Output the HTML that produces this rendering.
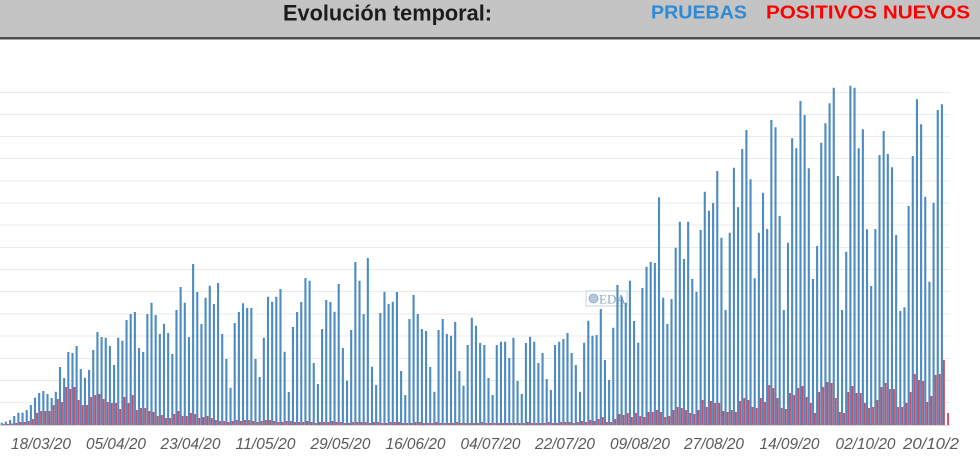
<!DOCTYPE html>
<html><head><meta charset="utf-8"><style>
html,body{margin:0;padding:0;background:#fff;width:980px;height:463px;overflow:hidden}
svg{display:block}
</style></head><body>
<svg width="980" height="463" viewBox="0 0 980 463" xmlns="http://www.w3.org/2000/svg">
<rect x="0" y="0" width="980" height="38" fill="#c4c4c4"/>
<rect x="0" y="37" width="980" height="2.5" fill="#4e4e4e"/>
<text x="283" y="20.5" font-family="'Liberation Sans', sans-serif" font-weight="bold" font-size="22" fill="#1c1c1c" textLength="209" lengthAdjust="spacingAndGlyphs">Evolución temporal:</text>
<text x="651" y="18.5" font-family="'Liberation Sans', sans-serif" font-weight="bold" font-size="18.5" fill="#2e8ad4" textLength="96" lengthAdjust="spacingAndGlyphs">PRUEBAS</text>
<text x="766" y="18.5" font-family="'Liberation Sans', sans-serif" font-weight="bold" font-size="18.5" fill="#ff0000" textLength="204" lengthAdjust="spacingAndGlyphs">POSITIVOS NUEVOS</text>

<g stroke="#ebebeb" stroke-width="1">
<line x1="0" x2="950" y1="92.5" y2="92.5"/>
<line x1="0" x2="950" y1="114.5" y2="114.5"/>
<line x1="0" x2="950" y1="136.5" y2="136.5"/>
<line x1="0" x2="950" y1="158.5" y2="158.5"/>
<line x1="0" x2="950" y1="181" y2="181"/>
<line x1="0" x2="950" y1="203" y2="203"/>
<line x1="0" x2="950" y1="225" y2="225"/>
<line x1="0" x2="950" y1="247.5" y2="247.5"/>
<line x1="0" x2="950" y1="269.5" y2="269.5"/>
<line x1="0" x2="950" y1="291.5" y2="291.5"/>
<line x1="0" x2="950" y1="314" y2="314"/>
<line x1="0" x2="950" y1="336" y2="336"/>
<line x1="0" x2="950" y1="358.5" y2="358.5"/>
<line x1="0" x2="950" y1="380.5" y2="380.5"/>
<line x1="0" x2="950" y1="402.5" y2="402.5"/>
</g>
<line x1="0" x2="950" y1="425.5" y2="425.5" stroke="#d8d8d8" stroke-width="1"/>

<g>
<rect x="586" y="291" width="41" height="15" fill="#ffffff" fill-opacity="0.7" stroke="#c5d3e3" stroke-width="1"/>
<circle cx="593.5" cy="298.5" r="4.5" fill="#b6c8df" stroke="#8ea6c6" stroke-width="0.8"/>
<text x="599" y="303.5" font-family="'Liberation Serif', serif" font-size="13" fill="#8ea6c6">EDA</text>
</g>

<path fill="#4d8bc0" d="M0.7 425
v-2.3h2.1V425m2.06 0 v-3.3h2.1V425m2.06 0 v-5h2.1V425m2.06 0 v-9h2.1V425m2.06 0 v-12.3h2.1V425m2.06 0
v-12.3h2.1V425m2.06 0 v-15h2.1V425m2.06 0 v-20h2.1V425m2.06 0 v-27.3h2.1V425m2.06 0 v-32h2.1V425m2.06 0
v-34h2.1V425m2.06 0 v-31h2.1V425m2.06 0 v-27h2.1V425m2.06 0 v-33.3h2.1V425m2.06 0 v-58h2.1V425m2.06 0
v-47h2.1V425m2.06 0 v-73h2.1V425m2.06 0 v-72h2.1V425m2.06 0 v-79h2.1V425m2.06 0 v-56h2.1V425m2.06 0
v-47.3h2.1V425m2.06 0 v-55h2.1V425m2.06 0 v-75h2.1V425m2.06 0 v-93h2.1V425m2.06 0 v-88h2.1V425m2.06 0
v-87.3h2.1V425m2.06 0 v-79h2.1V425m2.06 0 v-60h2.1V425m2.06 0 v-87.3h2.1V425m2.06 0 v-84.3h2.1V425m2.06 0
v-105h2.1V425m2.06 0 v-111h2.1V425m2.06 0 v-113h2.1V425m2.06 0 v-77h2.1V425m2.06 0 v-73h2.1V425m2.06 0
v-111h2.1V425m2.06 0 v-122.3h2.1V425m2.06 0 v-110h2.1V425m2.06 0 v-91h2.1V425m2.06 0 v-101.3h2.1V425m2.06 0
v-92h2.1V425m2.06 0 v-71h2.1V425m2.06 0 v-115h2.1V425m2.06 0 v-138h2.1V425m2.06 0 v-122.3h2.1V425m2.06 0
v-88h2.1V425m2.06 0 v-161h2.1V425m2.06 0 v-133h2.1V425m2.06 0 v-101h2.1V425m2.06 0 v-127.3h2.1V425m2.06 0
v-139.3h2.1V425m2.06 0 v-121h2.1V425m2.06 0 v-142h2.1V425m2.06 0 v-91h2.1V425m2.06 0 v-66h2.1V425m2.06 0
v-37.3h2.1V425m2.06 0 v-102h2.1V425m2.06 0 v-113h2.1V425m2.06 0 v-121.7h2.1V425m2.06 0 v-117h2.1V425m2.06 0
v-117h2.1V425m2.06 0 v-66h2.1V425m2.06 0 v-48h2.1V425m2.06 0 v-87.3h2.1V425m2.06 0 v-128.3h2.1V425m2.06 0
v-123.3h2.1V425m2.06 0 v-128.3h2.1V425m2.06 0 v-136h2.1V425m2.06 0 v-73.3h2.1V425m2.06 0 v-33h2.1V425m2.06 0
v-98h2.1V425m2.06 0 v-113h2.1V425m2.06 0 v-123h2.1V425m2.06 0 v-147h2.1V425m2.06 0 v-144.3h2.1V425m2.06 0
v-62h2.1V425m2.06 0 v-41h2.1V425m2.06 0 v-96h2.1V425m2.06 0 v-125h2.1V425m2.06 0 v-123h2.1V425m2.06 0
v-113.3h2.1V425m2.06 0 v-141h2.1V425m2.06 0 v-77h2.1V425m2.06 0 v-44.3h2.1V425m2.06 0 v-95h2.1V425m2.06 0
v-163h2.1V425m2.06 0 v-144.3h2.1V425m2.06 0 v-111h2.1V425m2.06 0 v-167h2.1V425m2.06 0 v-58.3h2.1V425m2.06 0
v-40h2.1V425m2.06 0 v-112h2.1V425m2.06 0 v-133.3h2.1V425m2.06 0 v-121h2.1V425m2.06 0 v-123.3h2.1V425m2.06 0
v-133h2.1V425m2.06 0 v-54h2.1V425m2.06 0 v-30h2.1V425m2.06 0 v-106h2.1V425m2.06 0 v-130h2.1V425m2.06 0
v-111h2.1V425m2.06 0 v-96h2.1V425m2.06 0 v-94h2.1V425m2.06 0 v-58h2.1V425m2.06 0 v-33.3h2.1V425m2.06 0
v-95h2.1V425m2.06 0 v-106h2.1V425m2.06 0 v-91h2.1V425m2.06 0 v-89.3h2.1V425m2.06 0 v-103h2.1V425m2.06 0
v-54h2.1V425m2.06 0 v-39.3h2.1V425m2.06 0 v-80h2.1V425m2.06 0 v-107.3h2.1V425m2.06 0 v-99.3h2.1V425m2.06 0
v-82h2.1V425m2.06 0 v-80h2.1V425m2.06 0 v-47h2.1V425m2.06 0 v-30h2.1V425m2.06 0 v-80h2.1V425m2.06 0
v-83.3h2.1V425m2.06 0 v-83.3h2.1V425m2.06 0 v-67h2.1V425m2.06 0 v-87.3h2.1V425m2.06 0 v-44h2.1V425m2.06 0
v-31h2.1V425m2.06 0 v-82h2.1V425m2.06 0 v-88.3h2.1V425m2.06 0 v-83.3h2.1V425m2.06 0 v-62h2.1V425m2.06 0
v-72h2.1V425m2.06 0 v-46h2.1V425m2.06 0 v-35h2.1V425m2.06 0 v-80h2.1V425m2.06 0 v-83.3h2.1V425m2.06 0
v-86h2.1V425m2.06 0 v-92h2.1V425m2.06 0 v-72h2.1V425m2.06 0 v-60h2.1V425m2.06 0 v-33.3h2.1V425m2.06 0
v-82.3h2.1V425m2.06 0 v-104.3h2.1V425m2.06 0 v-89.3h2.1V425m2.06 0 v-90h2.1V425m2.06 0 v-116h2.1V425m2.06 0
v-65h2.1V425m2.06 0 v-45h2.1V425m2.06 0 v-97.3h2.1V425m2.06 0 v-140h2.1V425m2.06 0 v-128.3h2.1V425m2.06 0
v-122.3h2.1V425m2.06 0 v-144.3h2.1V425m2.06 0 v-104h2.1V425m2.06 0 v-82.3h2.1V425m2.06 0 v-137h2.1V425m2.06 0
v-158.3h2.1V425m2.06 0 v-163h2.1V425m2.06 0 v-162h2.1V425m2.06 0 v-227.7h2.1V425m2.06 0 v-127.3h2.1V425m2.06 0
v-101h2.1V425m2.06 0 v-126h2.1V425m2.06 0 v-177.3h2.1V425m2.06 0 v-203.3h2.1V425m2.06 0 v-166h2.1V425m2.06 0
v-203.3h2.1V425m2.06 0 v-146h2.1V425m2.06 0 v-133.3h2.1V425m2.06 0 v-195h2.1V425m2.06 0 v-233.3h2.1V425m2.06 0
v-214.3h2.1V425m2.06 0 v-222h2.1V425m2.06 0 v-254h2.1V425m2.06 0 v-187.3h2.1V425m2.06 0 v-115h2.1V425m2.06 0
v-192.3h2.1V425m2.06 0 v-257.3h2.1V425m2.06 0 v-217.7h2.1V425m2.06 0 v-276h2.1V425m2.06 0 v-295h2.1V425m2.06 0
v-245.7h2.1V425m2.06 0 v-146.7h2.1V425m2.06 0 v-192.3h2.1V425m2.06 0 v-232.3h2.1V425m2.06 0 v-196h2.1V425m2.06 0
v-305h2.1V425m2.06 0 v-297.7h2.1V425m2.06 0 v-209h2.1V425m2.06 0 v-115h2.1V425m2.06 0 v-182.3h2.1V425m2.06 0
v-286.7h2.1V425m2.06 0 v-276.7h2.1V425m2.06 0 v-324h2.1V425m2.06 0 v-310h2.1V425m2.06 0 v-256.7h2.1V425m2.06 0
v-146h2.1V425m2.06 0 v-179h2.1V425m2.06 0 v-282.3h2.1V425m2.06 0 v-301.7h2.1V425m2.06 0 v-321.7h2.1V425m2.06 0
v-337.3h2.1V425m2.06 0 v-249h2.1V425m2.06 0 v-115h2.1V425m2.06 0 v-173.3h2.1V425m2.06 0 v-339.3h2.1V425m2.06 0
v-337.3h2.1V425m2.06 0 v-276.7h2.1V425m2.06 0 v-295.7h2.1V425m2.06 0 v-195.7h2.1V425m2.06 0 v-139h2.1V425m2.06 0
v-196h2.1V425m2.06 0 v-270h2.1V425m2.06 0 v-294h2.1V425m2.06 0 v-271h2.1V425m2.06 0 v-257.7h2.1V425m2.06 0
v-190h2.1V425m2.06 0 v-114h2.1V425m2.06 0 v-117.7h2.1V425m2.06 0 v-219h2.1V425m2.06 0 v-269h2.1V425m2.06 0
v-325.7h2.1V425m2.06 0 v-300.7h2.1V425m2.06 0 v-228.3h2.1V425m2.06 0 v-143.3h2.1V425m2.06 0 v-222.3h2.1V425m2.06 0
v-315h2.1V425m2.06 0 v-320.7h2.1V425m2.06 0"/>

<path fill="#c94d66" d="M2.8 425
v-1h1.9V425m2.26 0 v-1h1.9V425m2.26 0 v-1.5h1.9V425m2.26 0 v-2h1.9V425m2.26 0 v-3h1.9V425m2.26 0
v-3h1.9V425m2.26 0 v-4h1.9V425m2.26 0 v-6h1.9V425m2.26 0 v-12h1.9V425m2.26 0 v-14h1.9V425m2.26 0
v-14h1.9V425m2.26 0 v-14h1.9V425m2.26 0 v-20h1.9V425m2.26 0 v-26h1.9V425m2.26 0 v-23h1.9V425m2.26 0
v-38h1.9V425m2.26 0 v-36h1.9V425m2.26 0 v-38h1.9V425m2.26 0 v-25h1.9V425m2.26 0 v-20h1.9V425m2.26 0
v-20h1.9V425m2.26 0 v-28h1.9V425m2.26 0 v-30h1.9V425m2.26 0 v-31h1.9V425m2.26 0 v-26h1.9V425m2.26 0
v-23h1.9V425m2.26 0 v-22h1.9V425m2.26 0 v-22h1.9V425m2.26 0 v-16h1.9V425m2.26 0 v-28h1.9V425m2.26 0
v-22h1.9V425m2.26 0 v-30h1.9V425m2.26 0 v-15h1.9V425m2.26 0 v-17h1.9V425m2.26 0 v-17h1.9V425m2.26 0
v-14h1.9V425m2.26 0 v-13h1.9V425m2.26 0 v-9h1.9V425m2.26 0 v-10h1.9V425m2.26 0 v-7h1.9V425m2.26 0
v-7h1.9V425m2.26 0 v-11h1.9V425m2.26 0 v-14h1.9V425m2.26 0 v-9h1.9V425m2.26 0 v-9h1.9V425m2.26 0
v-12h1.9V425m2.26 0 v-11h1.9V425m2.26 0 v-7h1.9V425m2.26 0 v-8h1.9V425m2.26 0 v-9h1.9V425m2.26 0
v-7h1.9V425m2.26 0 v-5h1.9V425m2.26 0 v-4h1.9V425m2.26 0 v-4h1.9V425m2.26 0 v-3h1.9V425m2.26 0
v-4h1.9V425m2.26 0 v-5h1.9V425m2.26 0 v-4h1.9V425m2.26 0 v-5h1.9V425m2.26 0 v-5h1.9V425m2.26 0
v-4h1.9V425m2.26 0 v-3h1.9V425m2.26 0 v-4h1.9V425m2.26 0 v-5h1.9V425m2.26 0 v-5h1.9V425m2.26 0
v-4h1.9V425m2.26 0 v-3h1.9V425m2.26 0 v-3h1.9V425m2.26 0 v-4h1.9V425m2.26 0 v-4h1.9V425m2.26 0
v-3h1.9V425m2.26 0
v-3h1.9V425m2.26 0 v-3h1.9V425m2.26 0 v-4h1.9V425m2.26 0 v-3h1.9V425m2.26 0 v-2h1.9V425m2.26 0
v-3h1.9V425m2.26 0 v-3h1.9V425m2.26 0 v-3h1.9V425m2.26 0 v-4h1.9V425m2.26 0 v-3h1.9V425m2.26 0
v-3h1.9V425m2.26 0 v-2h1.9V425m2.26 0 v-2h1.9V425m2.26 0 v-3h1.9V425m2.26 0 v-3h1.9V425m2.26 0
v-3h1.9V425m2.26 0 v-3h1.9V425m2.26 0 v-2h1.9V425m2.26 0 v-3h1.9V425m2.26 0 v-3h1.9V425m2.26 0
v-2h1.9V425m2.26 0 v-2h1.9V425m2.26 0 v-3h1.9V425m2.26 0 v-3h1.9V425m2.26 0 v-3h1.9V425m2.26 0
v-2h1.9V425m2.26 0 v-2h1.9V425m2.26 0 v-2h1.9V425m2.26 0 v-3h1.9V425m2.26 0 v-3h1.9V425m2.26 0
v-2h1.9V425m2.26 0 v-2h1.9V425m2.26 0 v-2h1.9V425m2.26 0 v-3h1.9V425m2.26 0 v-2h1.9V425m2.26 0
v-2h1.9V425m2.26 0 v-2h1.9V425m2.26 0 v-2h1.9V425m2.26 0 v-3h1.9V425m2.26 0 v-2h1.9V425m2.26 0
v-2h1.9V425m2.26 0 v-2h1.9V425m2.26 0 v-2h1.9V425m2.26 0 v-2h1.9V425m2.26 0 v-3h1.9V425m2.26 0
v-2h1.9V425m2.26 0 v-2h1.9V425m2.26 0 v-2h1.9V425m2.26 0 v-2h1.9V425m2.26 0 v-2h1.9V425m2.26 0
v-2h1.9V425m2.26 0 v-2h1.9V425m2.26 0 v-2h1.9V425m2.26 0 v-2h1.9V425m2.26 0 v-2h1.9V425m2.26 0
v-3h1.9V425m2.26 0 v-2h1.9V425m2.26 0 v-2h1.9V425m2.26 0 v-2h1.9V425m2.26 0 v-2h1.9V425m2.26 0
v-3h1.9V425m2.26 0 v-2h1.9V425m2.26 0 v-2h1.9V425m2.26 0 v-3h1.9V425m2.26 0 v-3h1.9V425m2.26 0
v-3h1.9V425m2.26 0 v-2h1.9V425m2.26 0 v-3h1.9V425m2.26 0 v-4h1.9V425m2.26 0 v-3h1.9V425m2.26 0
v-5h1.9V425m2.26 0 v-4h1.9V425m2.26 0 v-6h1.9V425m2.26 0 v-8h1.9V425m2.26 0 v-3h1.9V425m2.26 0
v-3h1.9V425m2.26 0 v-6h1.9V425m2.26 0 v-11h1.9V425m2.26 0 v-10h1.9V425m2.26 0 v-12h1.9V425m2.26 0
v-8h1.9V425m2.26 0 v-12h1.9V425m2.26 0 v-9h1.9V425m2.26 0 v-8h1.9V425m2.26 0 v-13h1.9V425m2.26 0
v-13h1.9V425m2.26 0 v-15h1.9V425m2.26 0 v-13h1.9V425m2.26 0 v-8h1.9V425m2.26 0 v-9h1.9V425m2.26 0
v-15h1.9V425m2.26 0 v-18h1.9V425m2.26 0 v-17h1.9V425m2.26 0 v-15h1.9V425m2.26 0 v-12h1.9V425m2.26 0
v-11h1.9V425m2.26 0 v-15h1.9V425m2.26 0 v-25h1.9V425m2.26 0 v-18h1.9V425m2.26 0 v-24h1.9V425m2.26 0
v-22h1.9V425m2.26 0 v-22h1.9V425m2.26 0 v-14h1.9V425m2.26 0 v-13h1.9V425m2.26 0 v-15h1.9V425m2.26 0
v-13h1.9V425m2.26 0 v-24h1.9V425m2.26 0 v-27h1.9V425m2.26 0 v-25h1.9V425m2.26 0 v-18h1.9V425m2.26 0
v-17h1.9V425m2.26 0 v-27h1.9V425m2.26 0 v-23h1.9V425m2.26 0 v-40h1.9V425m2.26 0 v-37h1.9V425m2.26 0
v-27h1.9V425m2.26 0 v-17h1.9V425m2.26 0 v-16h1.9V425m2.26 0 v-32h1.9V425m2.26 0 v-30h1.9V425m2.26 0
v-37h1.9V425m2.26 0 v-39h1.9V425m2.26 0 v-28h1.9V425m2.26 0 v-22h1.9V425m2.26 0 v-12h1.9V425m2.26 0
v-33h1.9V425m2.26 0 v-38h1.9V425m2.26 0 v-43h1.9V425m2.26 0 v-42h1.9V425m2.26 0 v-27h1.9V425m2.26 0
v-13h1.9V425m2.26 0 v-12h1.9V425m2.26 0 v-33h1.9V425m2.26 0 v-39h1.9V425m2.26 0 v-32h1.9V425m2.26 0
v-32h1.9V425m2.26 0 v-22h1.9V425m2.26 0 v-17h1.9V425m2.26 0 v-18h1.9V425m2.26 0 v-25h1.9V425m2.26 0
v-38h1.9V425m2.26 0 v-42h1.9V425m2.26 0 v-36h1.9V425m2.26 0 v-36h1.9V425m2.26 0 v-18h1.9V425m2.26 0
v-18h1.9V425m2.26 0 v-22h1.9V425m2.26 0 v-33h1.9V425m2.26 0 v-51h1.9V425m2.26 0 v-45h1.9V425m2.26 0
v-44h1.9V425m2.26 0 v-23h1.9V425m2.26 0 v-29h1.9V425m2.26 0 v-50h1.9V425m2.26 0 v-51h1.9V425m2.26 0
v-65h1.9V425m2.26 0 v-12h1.9V425m2.26 0"/>

<g font-family="'Liberation Sans', sans-serif" font-style="italic" font-size="15.5" fill="#5a5a5a" text-anchor="middle">
<text x="41" y="449" textLength="60" lengthAdjust="spacingAndGlyphs">18/03/20</text>
<text x="116" y="449" textLength="60" lengthAdjust="spacingAndGlyphs">05/04/20</text>
<text x="190.5" y="449" textLength="60" lengthAdjust="spacingAndGlyphs">23/04/20</text>
<text x="265.5" y="449" textLength="60" lengthAdjust="spacingAndGlyphs">11/05/20</text>
<text x="340.5" y="449" textLength="60" lengthAdjust="spacingAndGlyphs">29/05/20</text>
<text x="415.5" y="449" textLength="60" lengthAdjust="spacingAndGlyphs">16/06/20</text>
<text x="490.5" y="449" textLength="60" lengthAdjust="spacingAndGlyphs">04/07/20</text>
<text x="565" y="449" textLength="60" lengthAdjust="spacingAndGlyphs">22/07/20</text>
<text x="640" y="449" textLength="60" lengthAdjust="spacingAndGlyphs">09/08/20</text>
<text x="714" y="449" textLength="60" lengthAdjust="spacingAndGlyphs">27/08/20</text>
<text x="789.5" y="449" textLength="60" lengthAdjust="spacingAndGlyphs">14/09/20</text>
<text x="865.5" y="449" textLength="60" lengthAdjust="spacingAndGlyphs">02/10/20</text>
<text x="903" y="449" text-anchor="start" textLength="56" lengthAdjust="spacingAndGlyphs">20/10/2</text>
</g>
</svg>
</body></html>
